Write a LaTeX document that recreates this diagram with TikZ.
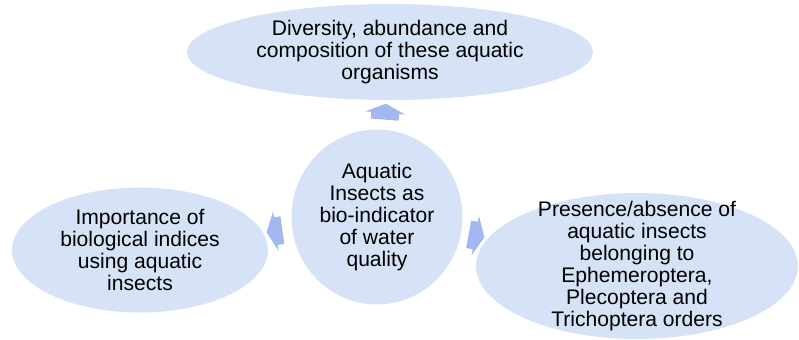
\documentclass[tikz,border=0pt]{standalone}
\usepackage{fontspec}
\setmainfont{Liberation Sans}
\usetikzlibrary{shapes.geometric,shapes.arrows}
\definecolor{bubblefill}{RGB}{214,227,247}
\definecolor{arrowfill}{RGB}{163,184,240}

\begin{document}
\begin{tikzpicture}[x=0.02cm,y=-0.02cm,
    bubble/.style={ellipse,fill=bubblefill,inner sep=0pt,align=center,font=\fontsize{12}{12.5}\selectfont},
    cyclearrow/.style={single arrow,fill=arrowfill,inner xsep=0pt,inner ysep=0.27cm,minimum height=0.32cm,minimum width=0.8cm,
        single arrow head extend=0.12cm,single arrow tip angle=130}]
    \useasboundingbox (0,0) rectangle (799,339);
    \node[bubble,minimum width=8.12cm,minimum height=1.92cm] (diversity) at (390,52) {Diversity, abundance and\\composition of these aquatic\\organisms};
    \node[bubble,minimum width=3.42cm,minimum height=3.5cm] (hub) at (377,217) {Aquatic\\Insects as\\bio-indicator\\of water\\quality};
    \node[bubble,minimum width=5.12cm,minimum height=2.5cm] (indices) at (140,250) {Importance of\\biological indices\\using aquatic\\insects};
    \node[bubble,minimum width=6.44cm,minimum height=2.92cm,inner ysep=-0.5cm] (presence) at (637,266) {Presence/absence of\\aquatic insects\\belonging to\\Ephemeroptera,\\Plecoptera and\\Trichoptera orders};
    \path (hub) -- node[cyclearrow,pos=0.5,sloped,allow upside down] {} (diversity);
    \path (hub) -- node[cyclearrow,pos=0.5,sloped,allow upside down] {} (indices);
    \path (hub) -- node[cyclearrow,pos=0.45,sloped,allow upside down] {} (presence);
\end{tikzpicture}
\end{document}
